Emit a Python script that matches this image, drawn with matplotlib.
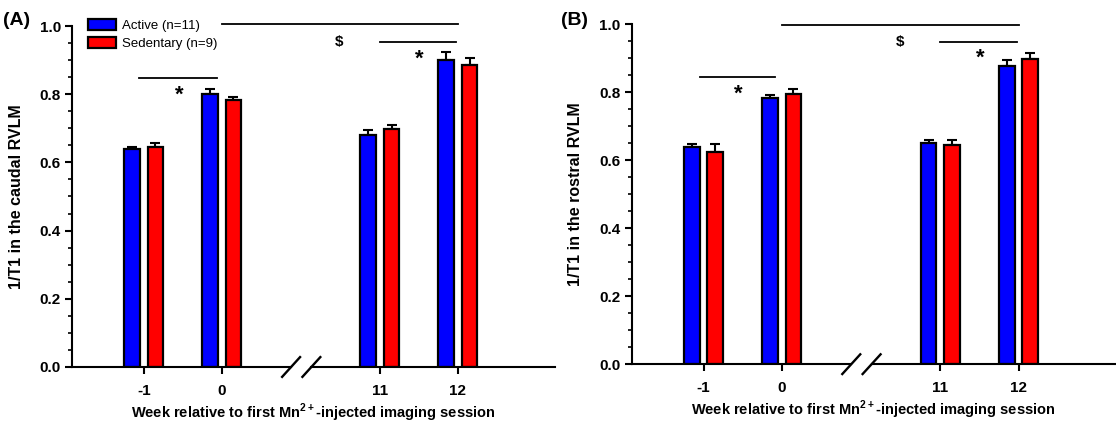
import matplotlib
matplotlib.use('Agg')
import matplotlib.pyplot as plt
import numpy as np
from matplotlib.ticker import MultipleLocator, FormatStrFormatter

plt.rcParams['font.family'] = ['Liberation Sans', 'DejaVu Sans']
plt.rcParams['mathtext.fontset'] = 'custom'
plt.rcParams['mathtext.rm'] = 'Liberation Sans'
plt.rcParams['mathtext.bf'] = 'Liberation Sans:bold'

weeks = ['-1', '0', '11', '12']
groups = ['Active (n=11)', 'Sedentary (n=9)']

# panel A: caudal RVLM
caudal_active = [0.638, 0.800, 0.679, 0.900]
caudal_active_err = [0.008, 0.014, 0.015, 0.023]
caudal_sed = [0.644, 0.783, 0.698, 0.886]
caudal_sed_err = [0.014, 0.008, 0.012, 0.019]

# panel B: rostral RVLM
rostral_active = [0.639, 0.784, 0.651, 0.878]
rostral_active_err = [0.008, 0.009, 0.007, 0.016]
rostral_sed = [0.624, 0.796, 0.646, 0.897]
rostral_sed_err = [0.023, 0.012, 0.012, 0.017]

# x layout (gap for the axis break between week 0 and week 11)
pos = np.array([0, 1, 3.03, 4.03])
brk = (pos[1] + pos[2]) / 2
width = 0.2
off = 0.15
XLIM = (-0.92, 5.27)

fig = plt.figure(figsize=(11.16, 4.32), dpi=100)
axA = fig.add_axes([0.0645, 0.1505, 0.4325, 0.7893])
axB = fig.add_axes([0.566, 0.157, 0.4335, 0.787])


def draw_panel(ax, active, active_err, sed, sed_err, ylabel, sig):
    for vals, errs, color, sign, lab in [(active, active_err, 'blue', -1, groups[0]),
                                         (sed, sed_err, 'red', 1, groups[1])]:
        ax.bar(pos + sign * off, vals, width, color=color, edgecolor='black',
               linewidth=1.6, label=lab, zorder=2)
        ax.errorbar(pos + sign * off, vals, yerr=[np.zeros(len(errs)), errs],
                    fmt='none', ecolor='black', elinewidth=1.5, capsize=3.5,
                    capthick=1.5, zorder=1)

    ax.set_xlim(*XLIM)
    ax.set_ylim(0, 1.0)
    ax.spines['top'].set_visible(False)
    ax.spines['right'].set_visible(False)
    ax.spines['bottom'].set_visible(False)
    ax.spines['left'].set_linewidth(1.5)

    ax.yaxis.set_major_locator(MultipleLocator(0.2))
    ax.yaxis.set_minor_locator(MultipleLocator(0.05))
    ax.yaxis.set_major_formatter(FormatStrFormatter('%.1f'))
    ax.tick_params(axis='y', which='major', length=5, width=1.5, labelsize=11, pad=3)
    ax.tick_params(axis='y', which='minor', length=3, width=1.2)
    ax.set_xticks(pos)
    ax.set_xticklabels(weeks)
    ax.tick_params(axis='x', length=5, width=1.5, labelsize=11, pad=7)
    for t in ax.get_xticklabels() + ax.get_yticklabels():
        t.set_fontweight('bold')

    # broken x axis line with // marks
    ax.plot([XLIM[0], brk - 0.125], [0, 0], color='black', lw=1.5, clip_on=False, zorder=3)
    ax.plot([brk + 0.135, XLIM[1]], [0, 0], color='black', lw=1.5, clip_on=False, zorder=3)
    for dx in (-0.125, 0.135):
        ax.plot([brk + dx - 0.115, brk + dx + 0.115], [-0.029, 0.029],
                color='black', lw=1.7, clip_on=False, zorder=3)

    ax.set_ylabel(ylabel, fontsize=11.5, fontweight='bold')
    ax.yaxis.set_label_coords(-0.1, 0.5)
    ax.set_xlabel(r'Week relative to first Mn$^{\mathbf{2+}}$-injected imaging session',
                  fontsize=10.5, fontweight='bold', labelpad=3)

    # significance annotations
    (top_y, mid_y, low_y, low_x0, low_x1) = sig
    ax.plot([pos[1], pos[3]], [top_y, top_y], color='black', lw=1.3, clip_on=False)
    ax.plot([pos[2], pos[3] - 0.02], [mid_y, mid_y], color='black', lw=1.3, clip_on=False)
    ax.plot([low_x0, low_x1], [low_y, low_y], color='black', lw=1.3, clip_on=False)
    ax.text(2.51, mid_y, '$', fontsize=11, fontweight='bold', ha='center', va='center')
    ax.text(3.54, mid_y - 0.05, '*', fontsize=16, fontweight='bold', ha='center', va='center')
    ax.text(0.45, low_y - 0.05, '*', fontsize=16, fontweight='bold', ha='center', va='center')


draw_panel(axA, caudal_active, caudal_active_err, caudal_sed, caudal_sed_err,
           '1/T1 in the caudal RVLM', (1.005, 0.952, 0.847, -0.065, 0.94))
draw_panel(axB, rostral_active, rostral_active_err, rostral_sed, rostral_sed_err,
           '1/T1 in the rostral RVLM', (0.999, 0.949, 0.845, -0.05, 0.92))

axA.legend(loc='upper left', bbox_to_anchor=(88 / 1116, 1 - 19 / 432),
           bbox_transform=fig.transFigure, frameon=False, fontsize=9.5,
           handlelength=2.1, handleheight=0.9, handletextpad=0.5,
           labelspacing=0.35, borderpad=0, borderaxespad=0)

fig.text(0.003, 0.953, '(A)', fontsize=14, fontweight='bold', ha='left', va='center')
fig.text(0.503, 0.953, '(B)', fontsize=14, fontweight='bold', ha='left', va='center')

plt.savefig('out.png', dpi=100)
